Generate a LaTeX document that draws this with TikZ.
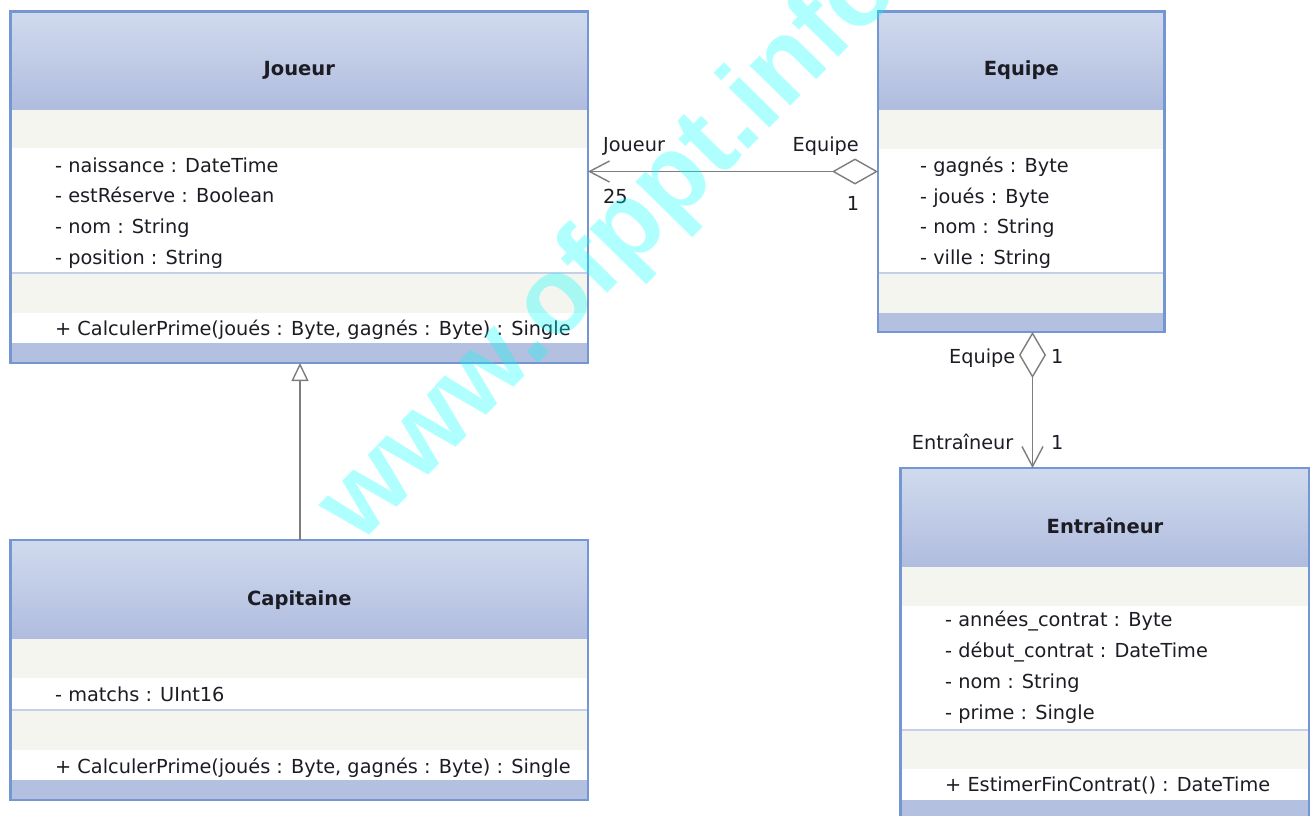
\documentclass[tikz,border=0pt]{standalone}
\usepackage{fontspec}
\setmainfont{DejaVu Sans}
\newfontfamily\wmfont{Liberation Sans}
\usetikzlibrary{arrows.meta,calc}

\definecolor{hdrtop}{RGB}{208,218,238}
\definecolor{hdrbot}{RGB}{176,188,222}
\definecolor{frameblue}{RGB}{116,150,210}
\definecolor{bandgray}{RGB}{243,245,238}
\definecolor{footblue}{RGB}{180,192,223}
\definecolor{sepblue}{RGB}{196,208,232}
\definecolor{linkgray}{RGB}{125,125,125}
\definecolor{inktext}{RGB}{28,28,36}
\definecolor{markcyan}{RGB}{0,255,255}

% body of a class box: #1,#2 left/right; #3 top; #4 end of header;
% #5 start of attributes; #6 separator; #7 start of operations;
% #8 start of footer; #9 bottom
\newcommand\classbody[9]{%
  \shade[top color=hdrtop,bottom color=hdrbot] (#1,#3) rectangle (#2,#4);
  \fill[bandgray] (#1,#4) rectangle (#2,#5);
  \fill[white] (#1,#5) rectangle (#2,#6);
  \fill[bandgray] (#1,#6) rectangle (#2,#7);
  \fill[white] (#1,#7) rectangle (#2,#8);
  \fill[footblue] (#1,#8) rectangle (#2,#9);
  \draw[sepblue,line width=1.5pt] (#1,#6) -- (#2,#6);
}

\begin{document}
\begin{tikzpicture}[x=1pt,y=-1pt,
  member/.style={font=\fontsize{19.3}{23}\selectfont,text=inktext,inner sep=0pt,anchor=base west},
  classname/.style={font=\bfseries\fontsize{19.5}{23}\selectfont,text=inktext,inner sep=0pt,anchor=base},
  rolelabel/.style={font=\fontsize{19.3}{23}\selectfont,text=inktext,inner sep=0pt},
  classframe/.style={draw=frameblue,line width=2.5pt,inner sep=0pt,outer sep=0pt,anchor=north west},
  link/.style={draw=linkgray,line width=1.4pt},
]
\useasboundingbox (0,0) rectangle (1315,816);
\clip (0,0) rectangle (1315,816);
\fill[white] (0,0) rectangle (1315,816);

% ---------- Joueur ----------
\classbody{10.5}{588}{11.5}{110}{148}{273}{313}{343}{363}
\node[classframe,minimum width=577.5pt,minimum height=351.5pt] (joueur) at (10.5,11.5) {};
\node[classname] (joueurT) at (299.3,76) {Joueur};
\foreach \t [count=\i] in {- naissance : DateTime,- estRéserve : Boolean,- nom : String,- position : String}
  \node[member] (joueurA\i) at (55,{172+30.7*(\i-1)}) {\t};
\node[member] (joueurM) at (55,335) {+ CalculerPrime(joués : Byte, gagnés : Byte) : Single};

% ---------- Equipe ----------
\classbody{878}{1164.5}{11.5}{110}{149}{273}{313}{313}{332}
\node[classframe,minimum width=286.5pt,minimum height=320.5pt] (equipe) at (878,11.5) {};
\node[classname] (equipeT) at (1021.3,76) {Equipe};
\foreach \t [count=\i] in {- gagnés : Byte,- joués : Byte,- nom : String,- ville : String}
  \node[member] (equipeA\i) at (920,{172.5+30.7*(\i-1)}) {\t};

% ---------- Capitaine ----------
\classbody{10.5}{588}{540}{639}{678}{710}{750}{780}{800}
\node[classframe,minimum width=577.5pt,minimum height=260pt] (capitaine) at (10.5,540) {};
\node[classname] (capitaineT) at (299.3,605) {Capitaine};
\node[member] (capitaineA1) at (55,701.5) {- matchs : UInt16};
\node[member] (capitaineM) at (55,773) {+ CalculerPrime(joués : Byte, gagnés : Byte) : Single};

% ---------- Entraîneur ----------
\classbody{900.5}{1309}{468}{567}{606}{730}{769}{800}{824}
\node[classframe,minimum width=408.5pt,minimum height=356pt] (entraineur) at (900.5,468) {};
\node[classname] (entraineurT) at (1105,533) {Entraîneur};
\foreach \t [count=\i] in {- années\_contrat : Byte,- début\_contrat : DateTime,- nom : String,- prime : Single}
  \node[member] (entraineurA\i) at (945,{626.5+30.9*(\i-1)}) {\t};
\node[member] (entraineurM) at (945,791.5) {+ EstimerFinContrat() : DateTime};

% ---------- connectors ----------
\coordinate (rowJE) at (0,171.5);
\coordinate (colEE) at (1032.5,0);
\coordinate (colCJ) at (300,0);

\draw[link,{Diamond[length=46pt,width=26pt,fill=white]}-{Straight Barb[length=20pt,width=21pt]}]
  (equipe.west |- rowJE) -- (joueur.east |- rowJE);
\draw[link,{Diamond[length=46pt,width=27pt,fill=white]}-{Straight Barb[length=20pt,width=21pt]}]
  (equipe.south -| colEE) -- (entraineur.north -| colEE);
\draw[link,-{Triangle[length=18pt,width=17pt,fill=white]}]
  (capitaine.north -| colCJ) -- (joueur.south -| colCJ);

% role names and multiplicities
\node[rolelabel,anchor=base west] (rJoueur) at (603,151.5) {Joueur};
\node[rolelabel,anchor=base west] (m25) at (603,203) {25};
\node[rolelabel,anchor=base east] (rEquipe) at (859,151.5) {Equipe};
\node[rolelabel,anchor=base] (m1a) at (853,210) {1};
\node[rolelabel,anchor=base east] (rEquipe2) at (1015.5,363) {Equipe};
\node[rolelabel,anchor=base west] (m1b) at (1051,363) {1};
\node[rolelabel,anchor=base east] (rEntraineur) at (1013.5,449) {Entraîneur};
\node[rolelabel,anchor=base west] (m1c) at (1051,449) {1};

% site mark across the sheet
\node[font=\wmfont\bfseries\fontsize{108}{108}\selectfont,text=markcyan,text opacity=0.31,
      rotate=45.5,inner sep=0pt,anchor=base] (sitemark) at (631,269) {www.ofppt.info};
\end{tikzpicture}
\end{document}
